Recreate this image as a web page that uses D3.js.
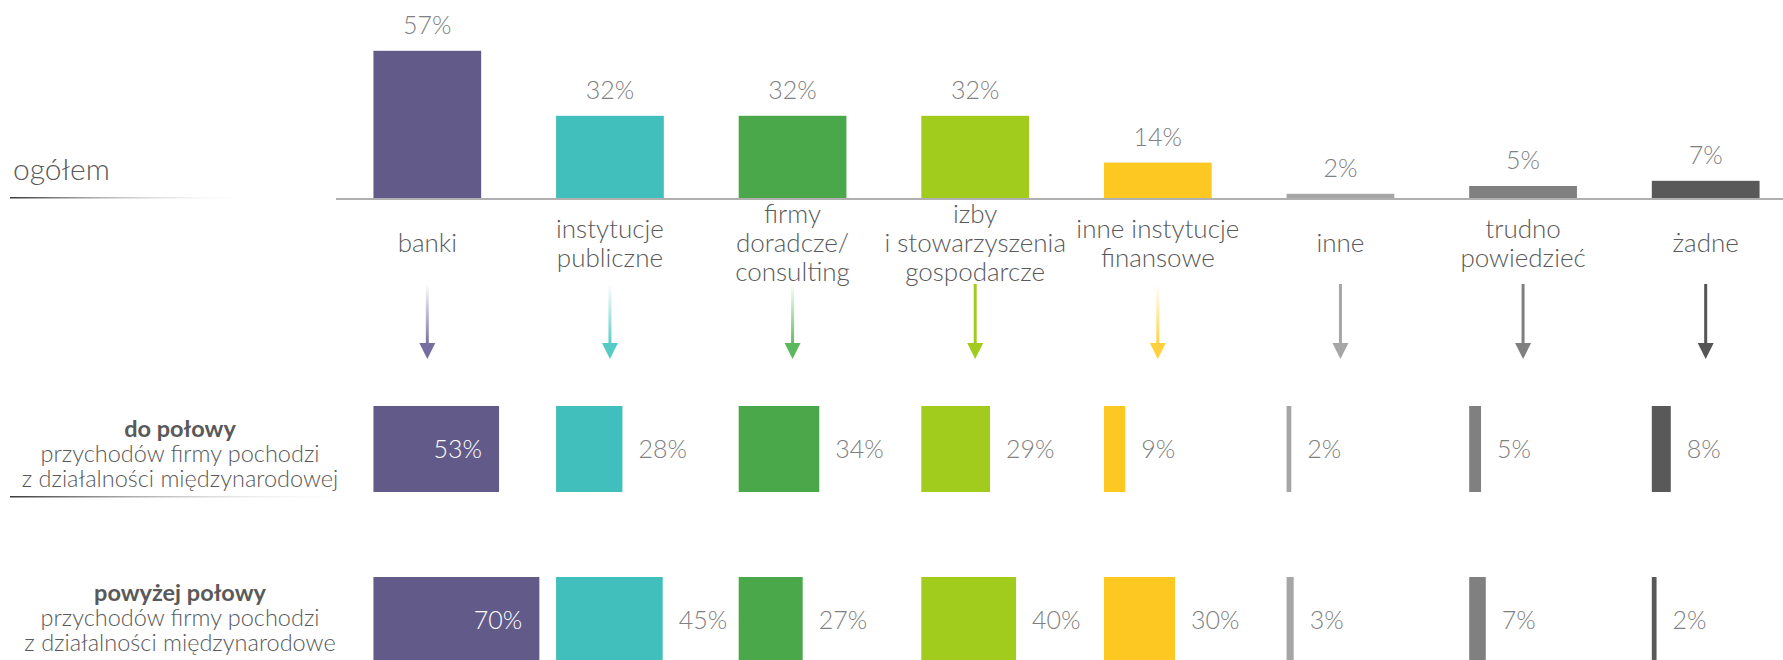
<!DOCTYPE html>
<html>
<head>
<meta charset="utf-8">
<script src="https://cdn.jsdelivr.net/npm/d3@7/dist/d3.min.js"></script>
<style>
  body { margin: 0; background: #fff; }
  svg { display: block; font-family: Lato, "Open Sans", sans-serif; font-weight: 300; }
</style>
</head>
<body>
<div id="root"></div>
<script>
// dane
var categories = ["banki", "instytucje publiczne", "firmy doradcze/consulting", "izby i stowarzyszenia gospodarcze",
    "inne instytucje finansowe", "inne", "trudno powiedzieć", "żadne"]
var categoryLines = [["banki"], ["instytucje", "publiczne"], ["firmy", "doradcze/", "consulting"],
    ["izby", "i stowarzyszenia", "gospodarcze"], ["inne instytucje", "finansowe"], ["inne"],
    ["trudno", "powiedzieć"], ["żadne"]]
var ogolem = [57, 32, 32, 32, 14, 2, 5, 7]
var doPolowy = [53, 28, 34, 29, 9, 2, 5, 8]
var powyzejPolowy = [70, 45, 27, 40, 30, 3, 7, 2]
var rowNames = ["do połowy", "powyżej połowy"]
var rowSubLines = [["przychodów firmy pochodzi", "z działalności międzynarodowej"],
    ["przychodów firmy pochodzi", "z działalności międzynarodowe"]]

var colors = ["#625b8a", "#41bfbc", "#4aa84b", "#a1cc1d", "#fec823", "#a6a6a6", "#808080", "#595959"]
var arrowColors = ["#766e9f", "#55cbc7", "#5cb85e", "#a1cc1d", "#ffd13c", "#a6a6a6", "#808080", "#555555"]
var arrowFade = [true, true, true, false, true, false, false, false]

var width = 1783, height = 660
var svg = d3.select("#root").append("svg")
    .attr("width", width)
    .attr("height", height)
var defs = svg.append("defs")

var x = d3.scaleBand()
    .domain(categories)
    .range([336, 1797])
    .paddingInner(0.41)
    .paddingOuter(0.205)
var y = d3.scaleLinear().domain([0, 60]).range([199, 43])
var w = d3.scaleLinear().domain([0, 100]).range([0, 237])
var rowY = d3.scaleBand().domain(rowNames).range([406, 663]).paddingInner(0.497)

// gradient pod podpisami
var ul = defs.append("linearGradient").attr("id", "underline")
ul.append("stop").attr("offset", "0%").attr("stop-color", "#3a3a3a")
ul.append("stop").attr("offset", "100%").attr("stop-color", "#ffffff").attr("stop-opacity", 0)

// ogółem
svg.append("text")
    .attr("x", 13).attr("y", 180)
    .attr("fill", "#595959")
    .style("font-size", "30px")
    .text("ogółem")
svg.append("rect")
    .attr("x", 10).attr("y", 197).attr("width", 244).attr("height", 1.5)
    .attr("fill", "url(#underline)")

// słupki ogółem
svg.append("g").selectAll("rect")
    .data(ogolem)
    .enter()
    .append("rect")
    .attr("x", function (d, i) { return x(categories[i]) })
    .attr("y", function (d) { return y(d) })
    .attr("width", x.bandwidth())
    .attr("height", function (d) { return y(0) - y(d) })
    .attr("fill", function (d, i) { return colors[i] })

svg.append("line")
    .attr("x1", 336).attr("x2", width)
    .attr("y1", y(0)).attr("y2", y(0))
    .attr("stroke", "#b0b0b0")
    .attr("stroke-width", 2)

svg.append("g").selectAll("text")
    .data(ogolem)
    .enter()
    .append("text")
    .attr("x", function (d, i) { return x(categories[i]) + x.bandwidth() / 2 })
    .attr("y", function (d) { return y(d) - 17 })
    .attr("text-anchor", "middle")
    .attr("fill", "#808080")
    .style("font-size", "25px")
    .text(function (d) { return d + "%" })

// nazwy kategorii
var catText = svg.append("g").selectAll("text")
    .data(categoryLines)
    .enter()
    .append("text")
    .attr("text-anchor", "middle")
    .attr("fill", "#595959")
    .style("font-size", "26px")
catText.each(function (lines, i) {
    var t = d3.select(this)
    var cx = x(categories[i]) + x.bandwidth() / 2
    var first = 252 - (lines.length - 1) * 29 / 2
    lines.forEach(function (s, j) {
        t.append("tspan").attr("x", cx).attr("y", first + j * 29).text(s)
    })
})

// strzałki
categories.forEach(function (c, i) {
    var cx = x(c) + x.bandwidth() / 2
    var fill = arrowColors[i]
    if (arrowFade[i]) {
        var g = defs.append("linearGradient")
            .attr("id", "fade" + i)
            .attr("x1", 0).attr("y1", 0).attr("x2", 0).attr("y2", 1)
        g.append("stop").attr("offset", "0%").attr("stop-color", arrowColors[i]).attr("stop-opacity", 0)
        g.append("stop").attr("offset", "100%").attr("stop-color", arrowColors[i]).attr("stop-opacity", 1)
        fill = "url(#fade" + i + ")"
    }
    svg.append("rect")
        .attr("x", cx - 1.5).attr("y", 284)
        .attr("width", 3).attr("height", 62)
        .attr("fill", fill)
    svg.append("path")
        .attr("d", "M" + (cx - 8) + ",343L" + (cx + 8) + ",343L" + cx + ",359Z")
        .attr("fill", arrowColors[i])
})

// wiersze: do połowy / powyżej połowy
var rowData = [doPolowy, powyzejPolowy]
var labelShift = [0, -7]
rowNames.forEach(function (name, r) {
    var top = rowY(name)
    var mid = top + rowY.bandwidth() / 2
    var g = svg.append("g")

    g.selectAll("rect")
        .data(rowData[r])
        .enter()
        .append("rect")
        .attr("x", function (d, i) { return x(categories[i]) })
        .attr("y", top)
        .attr("width", function (d) { return w(d) })
        .attr("height", rowY.bandwidth())
        .attr("fill", function (d, i) { return colors[i] })

    g.selectAll("text.val")
        .data(rowData[r])
        .enter()
        .append("text")
        .attr("class", "val")
        .attr("x", function (d, i) {
            return i == 0 ? x(categories[i]) + w(d) - 17 : x(categories[i]) + w(d) + 16
        })
        .attr("y", mid + 9)
        .attr("text-anchor", function (d, i) { return i == 0 ? "end" : "start" })
        .attr("fill", function (d, i) { return i == 0 ? "#ffffff" : "#808080" })
        .style("font-size", "25px")
        .text(function (d) { return d + "%" })

    var ly = top + 31 + labelShift[r]
    var lbl = g.append("text")
        .attr("text-anchor", "middle")
        .attr("fill", "#595959")
        .style("font-size", "23.5px")
    lbl.append("tspan").attr("x", 180).attr("y", ly)
        .style("font-weight", "bold").text(name)
    rowSubLines[r].forEach(function (s, j) {
        lbl.append("tspan").attr("x", 180).attr("y", ly + 25 + j * 25).text(s)
    })
})

svg.append("rect")
    .attr("x", 10).attr("y", 496).attr("width", 350).attr("height", 1.5)
    .attr("fill", "url(#underline)")
</script>
</body>
</html>
